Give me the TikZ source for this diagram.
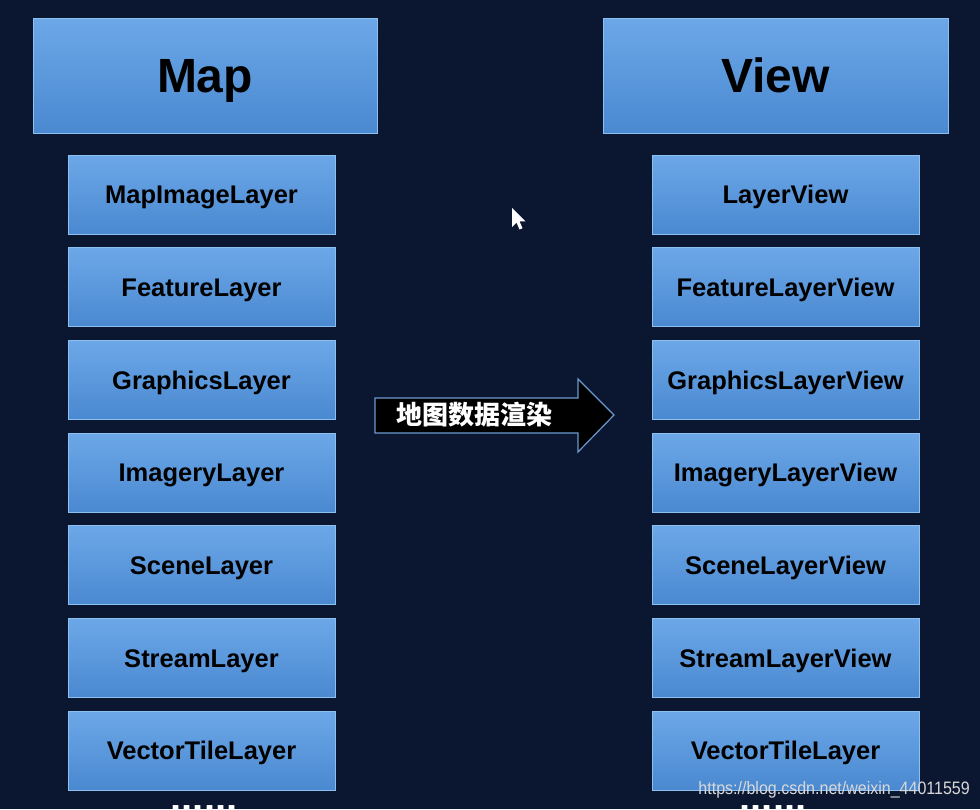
\documentclass[tikz,border=0pt]{standalone}
\usepackage{fontspec}
\setmainfont{Liberation Sans}
\newfontfamily\cjk{Noto Sans CJK SC}
\definecolor{bg}{HTML}{0B1631}
\definecolor{boxtop}{HTML}{6CA8E8}
\definecolor{boxbot}{HTML}{4A88D0}
\definecolor{boxedge}{HTML}{8CC0F0}
\definecolor{arrowedge}{HTML}{6A9AD0}
\definecolor{wm}{HTML}{D8D8D8}
\tikzset{
  bluebox/.style={draw=boxedge, line width=1pt, top color=boxtop, bottom color=boxbot,
    inner sep=0pt, text depth=0pt, text=black},
  titlebox/.style={bluebox, minimum width=344pt, minimum height=115pt, text height=34.4pt,
    font=\bfseries\fontsize{48}{56}\selectfont},
  itembox/.style={bluebox, minimum width=267pt, minimum height=79pt, text height=18.3pt,
    font=\bfseries\fontsize{25.5}{30}\selectfont},
  dotsstyle/.style={text=white, font=\bfseries\fontsize{40}{40}\selectfont, anchor=base, inner sep=0pt}
}
\begin{document}
\begin{tikzpicture}[x=1pt,y=-1pt]
\fill[bg] (0,0) rectangle (980,809);
\useasboundingbox (0,0) rectangle (980,809);

\node[titlebox] (map) at (205,75.5) {Map};
\node[titlebox, minimum width=345pt] (view) at (775.5,75.5) {View};

\foreach \i/\t in {1/MapImageLayer,2/FeatureLayer,3/GraphicsLayer,4/ImageryLayer,5/SceneLayer,6/StreamLayer,7/VectorTileLayer}
  \node[itembox] (L\i) at (201.5,{194.5+92.7*(\i-1)}) {\t};
\foreach \i/\t in {1/LayerView,2/FeatureLayerView,3/GraphicsLayerView,4/ImageryLayerView,5/SceneLayerView,6/StreamLayerView,7/VectorTileLayer}
  \node[itembox] (R\i) at (785.5,{194.5+92.7*(\i-1)}) {\t};

% arrow
\draw[arrowedge, line width=1.2pt, fill=black]
  (375,398) -- (578,398) -- (578,379) -- (614,415) -- (578,452) -- (578,433) -- (375,433) -- cycle;
\node[text=white, font=\cjk\bfseries\fontsize{26}{30}\selectfont, anchor=west, inner sep=0pt] (render) at (396,415) {地图数据渲染};

% cursor
\fill[white] (512,208) -- (512,227) -- (516.5,222.5) -- (519.5,229.5) -- (522.5,228.2) -- (519.5,221.3) -- (525.5,221.3) -- cycle;

% dots
\node[dotsstyle] (ldots) at (204,811.5) {......};
\node[dotsstyle] (rdots) at (773,811.5) {......};

% watermark
\node[text=wm, font=\fontsize{18}{20}\selectfont, anchor=east, inner sep=0pt, xscale=0.89, transform shape] (wmark) at (970,790) {https://blog.csdn.net/weixin\_44011559};
\end{tikzpicture}
\end{document}
